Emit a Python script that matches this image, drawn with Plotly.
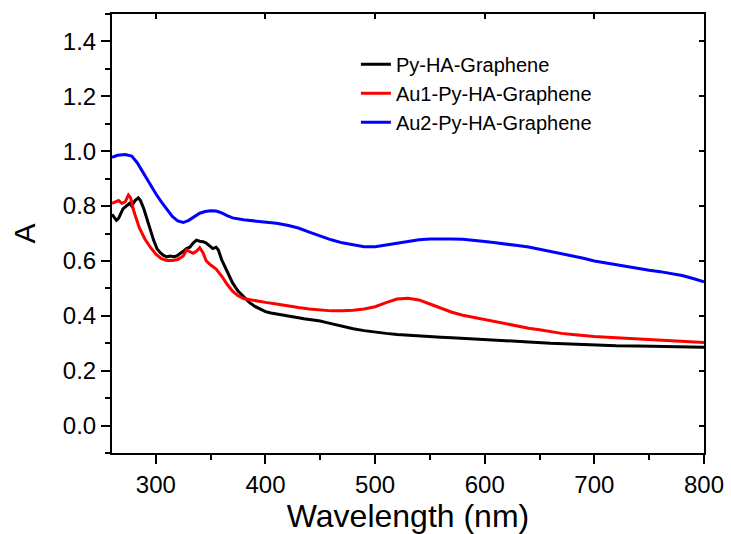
import plotly.graph_objects as go

# ---- data ----
blue_wl = [260, 265, 272, 278, 283, 290, 295, 300, 305, 310, 315, 320, 325, 330, 335, 340, 345, 350, 355, 360, 365, 370,
           380, 390, 400, 410, 420, 430, 440, 450, 460, 470, 480, 490, 500, 510, 520, 530, 540, 550, 560, 570, 580, 590,
           600, 610, 620, 630, 640, 650, 660, 670, 680, 690, 700, 710, 720, 730, 740, 750, 760, 770, 780, 790, 800]
blue_a = [0.978, 0.985, 0.988, 0.982, 0.958, 0.91, 0.875, 0.845, 0.815, 0.787, 0.762, 0.746, 0.740, 0.748, 0.762, 0.774,
          0.780, 0.783, 0.782, 0.775, 0.765, 0.757, 0.750, 0.746, 0.742, 0.737, 0.730, 0.720, 0.705, 0.690, 0.677, 0.666,
          0.658, 0.652, 0.652, 0.658, 0.666, 0.672, 0.677, 0.680, 0.681, 0.680, 0.679, 0.676, 0.671, 0.666, 0.662, 0.656,
          0.651, 0.643, 0.636, 0.628, 0.620, 0.610, 0.600, 0.593, 0.585, 0.578, 0.572, 0.566, 0.561, 0.555, 0.547, 0.536,
          0.524]

red_wl = [260, 263, 266, 269, 272, 275, 277, 280, 285, 290, 295, 300, 305, 310, 315, 320, 325, 328, 331, 334, 337, 340,
          343, 346, 350, 355, 360, 365, 370, 375, 380, 390, 400, 410, 420, 430, 440, 450, 460, 470, 480, 490, 500, 510,
          520, 530, 540, 550, 560, 570, 580, 590, 600, 610, 620, 630, 640, 650, 660, 670, 680, 690, 700, 720, 740, 760,
          780, 800]
red_a = [0.81, 0.815, 0.82, 0.81, 0.815, 0.84, 0.83, 0.78, 0.72, 0.68, 0.65, 0.625, 0.608, 0.602, 0.602, 0.605, 0.618,
         0.64, 0.635, 0.628, 0.635, 0.648, 0.63, 0.60, 0.585, 0.57, 0.545, 0.515, 0.49, 0.473, 0.463, 0.455, 0.449, 0.443,
         0.436, 0.43, 0.425, 0.421, 0.418, 0.418, 0.42, 0.425, 0.433, 0.448, 0.461, 0.464, 0.458, 0.443, 0.428, 0.413,
         0.402, 0.394, 0.386, 0.377, 0.37, 0.362, 0.355, 0.349, 0.342, 0.336, 0.332, 0.328, 0.325, 0.32, 0.316, 0.312,
         0.308, 0.303]

black_wl = [260, 262, 264, 266, 268, 270, 273, 276, 278, 281, 284, 286, 289, 292, 295, 298, 301, 304, 307, 310, 313, 316,
            319, 322, 325, 328, 331, 334, 337, 340, 343, 346, 349, 352, 355, 357, 360, 363, 366, 370, 375, 380, 385, 390,
            395, 400, 405, 410, 415, 420, 425, 430, 435, 440, 445, 450, 455, 460, 470, 480, 490, 500, 510, 520, 530, 540,
            550, 560, 570, 580, 590, 600, 620, 640, 660, 680, 700, 720, 740, 760, 780, 800]
black_a = [0.77, 0.76, 0.748, 0.755, 0.775, 0.79, 0.80, 0.81, 0.80, 0.82, 0.83, 0.82, 0.79, 0.75, 0.71, 0.675, 0.645,
           0.63, 0.62, 0.615, 0.618, 0.615, 0.618, 0.625, 0.635, 0.645, 0.65, 0.665, 0.676, 0.672, 0.67, 0.665, 0.655,
           0.645, 0.65, 0.64, 0.605, 0.58, 0.55, 0.52, 0.49, 0.468, 0.45, 0.435, 0.425, 0.415, 0.41, 0.407, 0.403, 0.399,
           0.397, 0.393, 0.389, 0.387, 0.384, 0.381, 0.376, 0.371, 0.362, 0.353, 0.346, 0.34, 0.336, 0.332, 0.329, 0.327,
           0.324, 0.322, 0.32, 0.318, 0.317, 0.314, 0.309, 0.305, 0.30, 0.297, 0.293, 0.291, 0.29, 0.289, 0.288, 0.285]

series = [
    ("Py-HA-Graphene", black_wl, black_a, "#000000"),
    ("Au1-Py-HA-Graphene", red_wl, red_a, "#ff0000"),
    ("Au2-Py-HA-Graphene", blue_wl, blue_a, "#0000ff"),
]

x_range = [260, 800]
y_range = [-0.1, 1.5]

FONT = "Liberation Sans, Arial, sans-serif"

fig = go.Figure()
for name, wl, a, col in series:
    fig.add_trace(go.Scatter(x=wl, y=a, mode="lines", name=name,
                             line=dict(color=col, width=3)))
# invisible trace so the mirror (top/right) axes are drawn
fig.add_trace(go.Scatter(x=[None], y=[None], xaxis="x2", yaxis="y2",
                         showlegend=False, hoverinfo="skip"))

axis_common = dict(showline=True, linecolor="black", linewidth=2, showgrid=False,
                   zeroline=False, tickcolor="black", tickwidth=2, automargin=False)

fig.update_layout(
    width=731, height=534,
    margin=dict(l=112, r=27, t=14, b=81),
    paper_bgcolor="white", plot_bgcolor="white",
    font=dict(family=FONT, color="black"),
    xaxis=dict(range=x_range, dtick=100, tick0=300, ticks="outside", ticklen=9,
               minor=dict(ticks="outside", dtick=50, ticklen=5, tickwidth=2, tickcolor="black"),
               tickfont=dict(size=24),
               title=dict(text="Wavelength (nm)", font=dict(size=32), standoff=4),
               **axis_common),
    yaxis=dict(range=y_range, dtick=0.2, tick0=0, ticks="outside", ticklen=9,
               tickformat=".1f",
               minor=dict(ticks="outside", dtick=0.1, ticklen=5, tickwidth=2, tickcolor="black"),
               tickfont=dict(size=24),
               title=dict(text="A", font=dict(size=30), standoff=18),
               **axis_common),
    xaxis2=dict(range=x_range, overlaying="x", side="top", anchor="y", dtick=100, tick0=300,
                ticks="inside", ticklen=5, showticklabels=False, **axis_common),
    yaxis2=dict(range=y_range, overlaying="y", side="right", anchor="x", dtick=0.2, tick0=0,
                ticks="inside", ticklen=5, showticklabels=False, **axis_common),
    legend=dict(x=0.412, y=0.93, xanchor="left", yanchor="top", bgcolor="rgba(0,0,0,0)",
                font=dict(size=20), borderwidth=0, tracegroupgap=0),
    showlegend=True,
)

fig.write_html("out.html")
